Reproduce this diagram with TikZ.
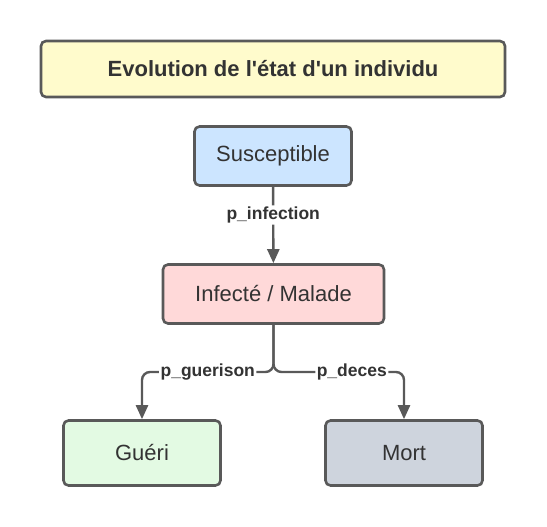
\documentclass[tikz,border=0pt]{standalone}
\usepackage{fontspec}
\setmainfont{Liberation Sans}
\usetikzlibrary{arrows.meta}

\definecolor{edgegray}{HTML}{595959}
\definecolor{textgray}{HTML}{333333}
\definecolor{titlefill}{HTML}{FFFBCC}
\definecolor{suscfill}{HTML}{CCE5FF}
\definecolor{inffill}{HTML}{FFD9D9}
\definecolor{guerifill}{HTML}{E3FAE3}
\definecolor{mortfill}{HTML}{CED4DD}

\tikzset{
    etat/.style={draw=edgegray, line width=2.6pt, rounded corners=5pt,
        text=textgray, font=\fontsize{22}{26}\selectfont,
        minimum width=157pt, minimum height=59pt, inner sep=0pt},
    lien/.style={draw=edgegray, line width=2.4pt, rounded corners=8pt,
        -{Triangle[length=14pt,width=12pt]}},
    proba/.style={fill=white, text=textgray, inner sep=1.5pt,
        font=\bfseries\fontsize{17.5}{21}\selectfont}
}

\begin{document}
\begin{tikzpicture}[x=1pt, y=1pt]
            \useasboundingbox (0, 0) rectangle (547, -527);
            % etats
            \node[etat, fill=titlefill, minimum width=464pt, minimum height=56pt,
                font=\bfseries\fontsize{22}{26}\selectfont] (titre) at (273, -69)
                {Evolution de l\textquotesingle état d\textquotesingle un individu};
            \node[etat, fill=suscfill] (susc) at (273, -156) {Susceptible};
            \node[etat, fill=inffill, minimum width=221pt] (inf) at (273.5, -294) {Infecté / Malade};
            \node[etat, fill=guerifill, minimum height=65pt] (gueri) at (142, -453) {Guéri};
            \node[etat, fill=mortfill, minimum height=65pt] (mort) at (404, -453) {Mort};
            \coordinate (fourche) at (273.5, -372);
            % transitions
            \draw[lien] (susc) -- (inf) node[pos=0.37, proba] {p\_infection};
            \draw[lien] (inf.south) -- (fourche) -| (gueri.north) node[pos=0.25, proba] {p\_guerison};
            \draw[lien] (inf.south) -- (fourche) -| (mort.north) node[pos=0.3, proba] {p\_deces};
        \end{tikzpicture}
\end{document}
